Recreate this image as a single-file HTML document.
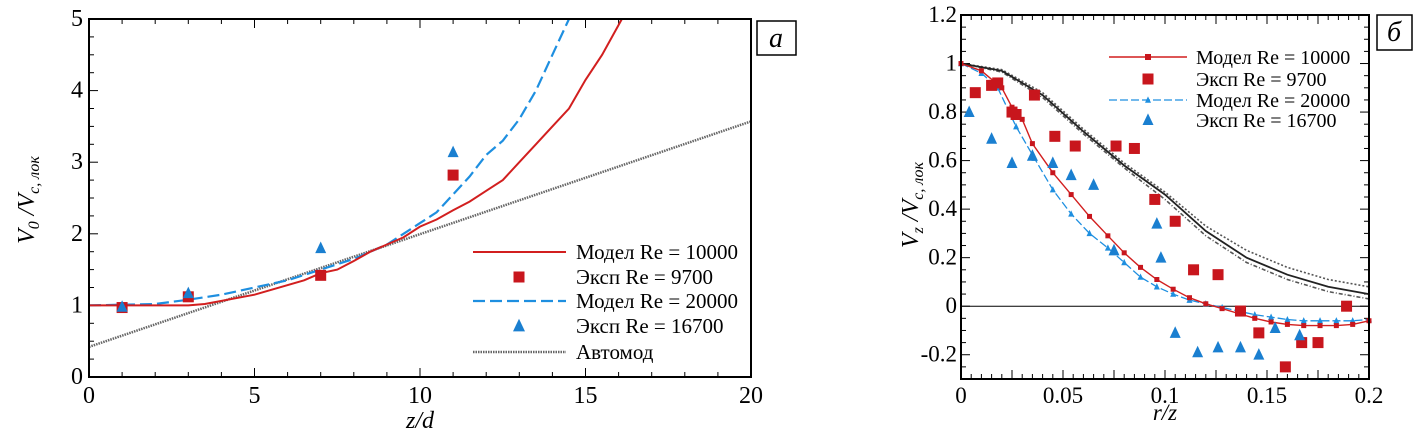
<!DOCTYPE html>
<html><head><meta charset="utf-8"><style>
html,body{margin:0;padding:0;background:#fff;}
svg{display:block;}
svg text{font-family:"Liberation Serif","DejaVu Serif","Times New Roman",serif !important;}
</style></head><body>
<svg id="c" width="1414" height="438" viewBox="0 0 1414 438" xmlns="http://www.w3.org/2000/svg"></svg>
<script>
// ---- Panel a data ----
const aRedX=[0,3,3.5,5,6.5,7,7.5,8,8.5,9,9.5,10,10.5,11,11.5,12,12.5,13,13.5,14,14.5,15,15.5,16.1];
const aRedY=[1,1,1.02,1.15,1.35,1.45,1.5,1.62,1.75,1.85,1.95,2.1,2.2,2.33,2.45,2.6,2.75,3.0,3.25,3.5,3.75,4.15,4.5,5];
const aBlueX=[0,2,3,4,5,6,7,8,9,10,10.5,11,11.5,12,12.5,13,13.5,14,14.5];
const aBlueY=[1,1.02,1.08,1.15,1.25,1.35,1.5,1.65,1.85,2.15,2.3,2.55,2.8,3.1,3.3,3.6,4.0,4.5,5];
const aAutoX=[0,20];
const aAutoY=[0.42,3.57];
const aSqX=[1,3,7,11], aSqY=[0.97,1.12,1.42,2.82];
const aTrX=[1,3,7,11], aTrY=[0.98,1.17,1.8,3.14];
const aXTicks=[0,5,10,15,20], aYTicks=[0,1,2,3,4,5];
// ---- Panel b data ----
const bR=[0,0.02,0.04,0.06,0.08,0.1,0.12,0.14,0.16,0.18,0.2];
const bBlackSolid=[1,0.97,0.87,0.72,0.58,0.46,0.31,0.2,0.13,0.08,0.05];
const bBlackDot=[1,0.975,0.88,0.73,0.59,0.47,0.33,0.23,0.16,0.11,0.08];
const bBlackDash=[1,0.965,0.86,0.71,0.57,0.44,0.29,0.18,0.11,0.06,0.03];
const bRedX=[0,0.01,0.02,0.025,0.03,0.035,0.045,0.054,0.063,0.072,0.08,0.088,0.096,0.104,0.112,0.12,0.128,0.136,0.144,0.152,0.16,0.168,0.176,0.184,0.192,0.2];
const bRedY=[1,0.97,0.9,0.82,0.77,0.67,0.55,0.46,0.37,0.29,0.22,0.16,0.11,0.07,0.035,0.01,-0.01,-0.03,-0.05,-0.065,-0.075,-0.08,-0.08,-0.08,-0.075,-0.06];
const bBlueX=[0,0.01,0.018,0.027,0.036,0.045,0.054,0.063,0.072,0.08,0.088,0.096,0.104,0.112,0.12,0.128,0.136,0.144,0.152,0.16,0.168,0.176,0.184,0.192,0.2];
const bBlueY=[1,0.96,0.9,0.74,0.61,0.48,0.38,0.3,0.24,0.18,0.12,0.08,0.05,0.025,0.01,-0.005,-0.02,-0.035,-0.045,-0.055,-0.06,-0.06,-0.06,-0.06,-0.055];
const bSqX=[0.007,0.015,0.018,0.025,0.027,0.036,0.046,0.056,0.076,0.085,0.095,0.105,0.114,0.126,0.137,0.146,0.159,0.167,0.175,0.189];
const bSqY=[0.88,0.91,0.92,0.8,0.79,0.87,0.7,0.66,0.66,0.65,0.44,0.35,0.15,0.13,-0.02,-0.11,-0.25,-0.15,-0.15,0];
const bTrX=[0.004,0.015,0.025,0.035,0.045,0.054,0.065,0.075,0.096,0.098,0.105,0.116,0.126,0.137,0.146,0.154,0.166];
const bTrY=[0.8,0.69,0.59,0.62,0.59,0.54,0.5,0.23,0.34,0.2,-0.11,-0.19,-0.17,-0.17,-0.2,-0.09,-0.12];
const bXTicks=[0,0.05,0.1,0.15,0.2], bXLabels=["0","0.05","0.1","0.15","0.2"];
const bYTicks=[-0.2,0,0.2,0.4,0.6,0.8,1,1.2], bYLabels=["-0.2","0","0.2","0.4","0.6","0.8","1","1.2"];

const NS="http://www.w3.org/2000/svg", svg=document.getElementById('c');
function mk(tag,attrs,parent,text){const e=document.createElementNS(NS,tag);for(const k in attrs)e.setAttribute(k,attrs[k]);if(tag==='text')e.style.fontFamily='"Liberation Serif","DejaVu Serif",serif';if(text!==undefined)e.textContent=text;(parent||svg).appendChild(e);return e;}
function lin(d0,d1,r0,r1){return v=>r0+(v-d0)/(d1-d0)*(r1-r0);}
function pathD(xs,ys,sx,sy){return xs.map((x,i)=>(i?'L':'M')+sx(x).toFixed(1)+' '+sy(ys[i]).toFixed(1)).join(' ');}
function sq(g,x,y,s,col){return mk('rect',{x:x-s/2,y:y-s/2,width:s,height:s,fill:col},g);}
function tri(g,x,y,s,col){return mk('polygon',{points:`${x},${y-s*0.6} ${x-s/2},${y+s*0.45} ${x+s/2},${y+s*0.45}`,fill:col},g);}
const RED='#d21f1f', BLUE='#1e8fe0', SQR='#c8161d', TRB='#1a7fd0';

// ---------- Panel a ----------
{
const X0=89,X1=751,Y0=377,Y1=19;
const sx=lin(0,20,X0,X1), sy=lin(0,5,Y0,Y1);
const g=mk('g',{});

for(let v=0;v<=20;v+=1){mk('line',{x1:sx(v),x2:sx(v),y1:Y0,y2:Y0-(v%5?5:9),stroke:'#000','stroke-width':1},g);mk('line',{x1:sx(v),x2:sx(v),y1:Y1,y2:Y1+(v%5?5:9),stroke:'#000','stroke-width':1},g);}
for(let v=0;v<=5.001;v+=0.25){const maj=Math.abs(v-Math.round(v))<1e-6;mk('line',{x1:X0,x2:X0+(maj?9:5),y1:sy(v),y2:sy(v),stroke:'#000','stroke-width':1},g);}
const xl=mk('g',{},g);
aXTicks.forEach(v=>mk('text',{x:sx(v),y:Y0+26,'font-size':24,'text-anchor':'middle'},xl,String(v)));
const yl=mk('g',{},g);
aYTicks.forEach(v=>mk('text',{x:X0-6,y:sy(v)+7,'font-size':24,'text-anchor':'end'},yl,String(v)));
const au=mk('path',{d:pathD(aAutoX,aAutoY,sx,sy),stroke:'#666',fill:'none','stroke-width':2.5,'stroke-dasharray':'1.5 1'},g);

const bl=mk('path',{d:pathD(aBlueX,aBlueY,sx,sy),stroke:BLUE,fill:'none','stroke-width':2.2,'stroke-dasharray':'12 5'},g);

const rl=mk('path',{d:pathD(aRedX,aRedY,sx,sy),stroke:RED,fill:'none','stroke-width':2},g);

aSqX.forEach((x,i)=>{const e=sq(g,sx(x),sy(aSqY[i]),11,SQR);});
aTrX.forEach((x,i)=>{const e=tri(g,sx(x),sy(aTrY[i]),11,TRB);});
const fr=mk('rect',{x:X0,y:Y1,width:X1-X0,height:Y0-Y1,fill:'none',stroke:'#000','stroke-width':2},g);

const lg=mk('g',{},g);
const rows=[252,277,301,326,352],lx0=473,lx1=566,tx=576;
mk('line',{x1:lx0,x2:lx1,y1:rows[0],y2:rows[0],stroke:RED,'stroke-width':2},lg);
sq(lg,519,rows[1],11,SQR);
mk('line',{x1:lx0,x2:lx1,y1:rows[2],y2:rows[2],stroke:BLUE,'stroke-width':2.2,'stroke-dasharray':'12 5'},lg);
tri(lg,519,rows[3],12,TRB);
mk('line',{x1:lx0,x2:lx1,y1:rows[4],y2:rows[4],stroke:'#666','stroke-width':2.5,'stroke-dasharray':'1.5 1'},lg);
["Модел Re = 10000","Эксп Re = 9700","Модел Re = 20000","Эксп Re = 16700","Автомод"].forEach((t,i)=>{const e=mk('text',{x:tx,y:rows[i]+7,'font-size':21},lg,t);});
const xt=mk('text',{x:(X0+X1)/2,y:428,'font-size':24,'font-style':'italic','text-anchor':'middle'},g,'z/d');

const yt=mk('text',{transform:`translate(34,200) rotate(-90)`,'font-size':24,'font-style':'italic','text-anchor':'middle'},g);

mk('tspan',{},yt,'V');mk('tspan',{'font-size':16,dy:5},yt,'0');mk('tspan',{dy:-5},yt,' /V');mk('tspan',{'font-size':16,dy:5},yt,'c, лок');
const lb=mk('g',{},g);
mk('rect',{x:757,y:21,width:39,height:34,fill:'#fff',stroke:'#000','stroke-width':1.5},lb);
mk('text',{x:776,y:47,'font-size':28,'font-style':'italic','text-anchor':'middle'},lb,'а');
}

// ---------- Panel b ----------
{
const X0=961,X1=1369,Y0=379,Y1=15;
const sx=lin(0,0.2,X0,X1), sy=lin(-0.3,1.2,Y0,Y1);
const g=mk('g',{});

for(let i=0;i<=40;i++){const v=i*0.005,maj=i%5===0;mk('line',{x1:sx(v),x2:sx(v),y1:Y0,y2:Y0-(maj?9:5),stroke:'#000','stroke-width':1},g);mk('line',{x1:sx(v),x2:sx(v),y1:Y1,y2:Y1+(maj?9:5),stroke:'#000','stroke-width':1},g);}
for(let i=0;i<=30;i++){const v=-0.3+i*0.05,maj=i%4===2;mk('line',{x1:X0,x2:X0+(maj?9:5),y1:sy(v),y2:sy(v),stroke:'#000','stroke-width':1},g);mk('line',{x1:X1,x2:X1-(maj?9:5),y1:sy(v),y2:sy(v),stroke:'#000','stroke-width':1},g);}
const xl=mk('g',{},g);
bXTicks.forEach((v,i)=>mk('text',{x:sx(v),y:Y0+24,'font-size':23,'text-anchor':'middle'},xl,bXLabels[i]));
const yl=mk('g',{},g);
bYTicks.forEach((v,i)=>mk('text',{x:X0-4,y:sy(v)+7,'font-size':23,'text-anchor':'end'},yl,bYLabels[i]));
const z=mk('line',{x1:X0,x2:X1,y1:sy(0),y2:sy(0),stroke:'#000','stroke-width':1},g);

const b1=mk('path',{d:pathD(bR,bBlackDot,sx,sy),stroke:'#555',fill:'none','stroke-width':1.6,'stroke-dasharray':'2 2'},g);

const b2=mk('path',{d:pathD(bR,bBlackDash,sx,sy),stroke:'#555',fill:'none','stroke-width':1.6,'stroke-dasharray':'4 2 1 2'},g);

const b3=mk('path',{d:pathD(bR,bBlackSolid,sx,sy),stroke:'#222',fill:'none','stroke-width':1.8},g);

const bl=mk('path',{d:pathD(bBlueX,bBlueY,sx,sy),stroke:BLUE,fill:'none','stroke-width':1.3,'stroke-dasharray':'8 3'},g);

bBlueX.forEach((x,i)=>tri(g,sx(x),sy(bBlueY[i]),6,BLUE));
const rl=mk('path',{d:pathD(bRedX,bRedY,sx,sy),stroke:RED,fill:'none','stroke-width':1.4},g);

bRedX.forEach((x,i)=>sq(g,sx(x),sy(bRedY[i]),5,SQR));
bSqX.forEach((x,i)=>{const e=sq(g,sx(x),sy(bSqY[i]),11,SQR);});
bTrX.forEach((x,i)=>{const e=tri(g,sx(x),sy(bTrY[i]),11,TRB);});
const fr=mk('rect',{x:X0,y:Y1,width:X1-X0,height:Y0-Y1,fill:'none',stroke:'#000','stroke-width':2},g);

const lg=mk('g',{},g);
const rows=[57,79,100,120],lx0=1109,lx1=1187,tx=1196;
mk('line',{x1:lx0,x2:lx1,y1:rows[0],y2:rows[0],stroke:RED,'stroke-width':1.4},lg);sq(lg,1148,rows[0],6,SQR);
sq(lg,1148,rows[1],11,SQR);
mk('line',{x1:lx0,x2:lx1,y1:rows[2],y2:rows[2],stroke:BLUE,'stroke-width':1.3,'stroke-dasharray':'8 3'},lg);tri(lg,1148,rows[2],6,BLUE);
tri(lg,1148,rows[3],11,TRB);
["Модел Re = 10000","Эксп Re = 9700","Модел Re = 20000","Эксп Re = 16700"].forEach((t,i)=>{const e=mk('text',{x:tx,y:rows[i]+7,'font-size':20},lg,t);});
const xt=mk('text',{x:(X0+X1)/2,y:420,'font-size':23,'font-style':'italic','text-anchor':'middle'},g,'r/z');

const yt=mk('text',{transform:`translate(918,205) rotate(-90)`,'font-size':24,'font-style':'italic','text-anchor':'middle'},g);

mk('tspan',{},yt,'V');mk('tspan',{'font-size':16,dy:5},yt,'z');mk('tspan',{dy:-5},yt,' /V');mk('tspan',{'font-size':16,dy:5},yt,'c, лок');
const lb=mk('g',{},g);
mk('rect',{x:1377,y:15,width:35,height:35,fill:'#fff',stroke:'#000','stroke-width':1.5},lb);
mk('text',{x:1394,y:41,'font-size':28,'font-style':'italic','text-anchor':'middle'},lb,'б');
}
</script>
</body></html>
